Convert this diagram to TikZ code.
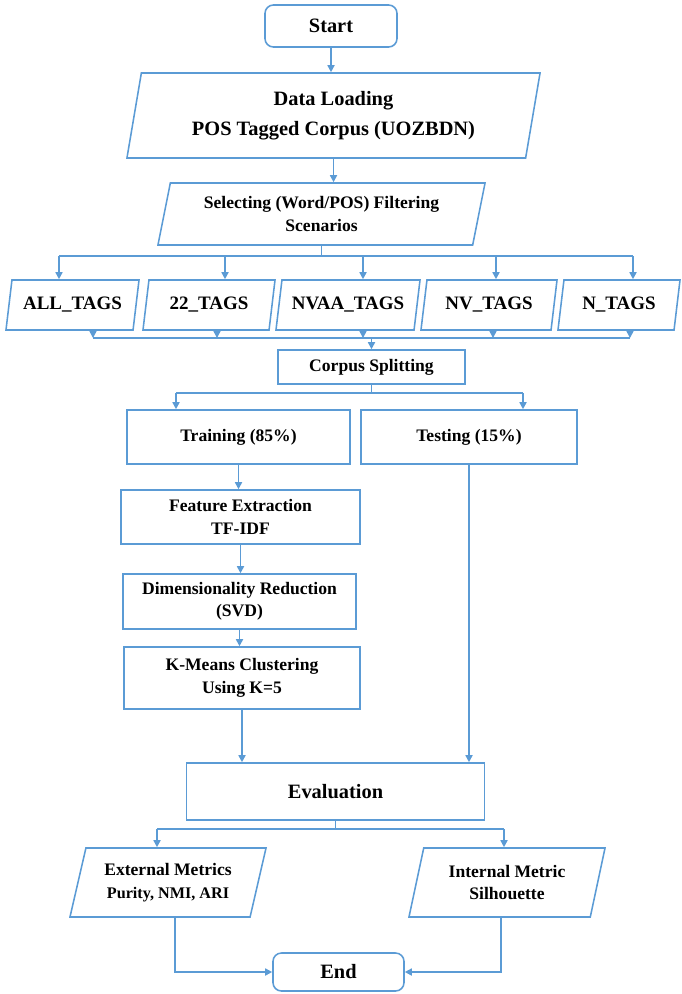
\documentclass[tikz,border=0pt]{standalone}
\usepackage{fontspec}
\setmainfont{Liberation Serif}
\usetikzlibrary{shapes.geometric,arrows.meta}
\definecolor{flow}{RGB}{91,155,213}

\begin{document}
\begin{tikzpicture}[x=0.025cm, y=-0.025cm,
    line/.style={draw=flow, line width=1.1pt},
    arr/.style={line, -{Triangle[width=5pt,length=5pt]}},
    big/.style={font=\fontsize{14.5}{21}\selectfont\bfseries},
    mid/.style={font=\fontsize{13.5}{17}\selectfont\bfseries},
    small/.style={font=\fontsize{12.5}{16}\selectfont\bfseries},
    box/.style={draw=flow, line width=1.1pt, rectangle, align=center, inner sep=2pt},
    term/.style={box, rounded corners=6pt},
    io/.style={box, trapezium, trapezium left angle=#1, trapezium right angle={180-#1},
        trapezium stretches body},
    io/.default=72]
    \useasboundingbox (0,0) rectangle (682,994);

    % Start and input
    \node[term, big, minimum width=3.3cm, minimum height=1.05cm] (start) at (331,26) {Start};
    \node[io=75, big, minimum width=10.325cm, minimum height=2.125cm] (load) at (333.5,115.5)
        {Data Loading\\POS Tagged Corpus (UOZBDN)};
    \node[io=73, small, minimum width=8.175cm, minimum height=1.55cm] (select) at (321.5,214)
        {Selecting (Word/POS) Filtering\\Scenarios};

    % Filtering scenarios
    \node[io=74, mid, minimum width=3.325cm, minimum height=1.25cm] (all) at (72.5,305) {ALL\_TAGS};
    \node[io=74, mid, minimum width=3.3cm, minimum height=1.25cm] (t22) at (209,305) {22\_TAGS};
    \node[io=74, mid, minimum width=3.6cm, minimum height=1.25cm] (nvaa) at (348,305) {NVAA\_TAGS};
    \node[io=74, mid, minimum width=3.4cm, minimum height=1.25cm] (nv) at (489,305) {NV\_TAGS};
    \node[io=74, mid, minimum width=3.05cm, minimum height=1.25cm] (ntag) at (619,305) {N\_TAGS};

    % Processing steps
    \node[box, small, minimum width=4.675cm, minimum height=0.85cm] (corpus) at (371.5,367) {Corpus Splitting};
    \node[box, small, minimum width=5.575cm, minimum height=1.35cm] (train) at (238.5,437) {Training (85\%)};
    \node[box, small, minimum width=5.4cm, minimum height=1.35cm] (test) at (469,437) {Testing (15\%)};
    \node[box, small, minimum width=5.975cm, minimum height=1.35cm] (feat) at (240.5,517)
        {Feature Extraction\\TF-IDF};
    \node[box, small, minimum width=5.825cm, minimum height=1.375cm] (dim) at (239.5,601.5)
        {Dimensionality Reduction\\(SVD)};
    \node[box, small, minimum width=5.9cm, minimum height=1.55cm] (kmeans) at (242,678)
        {K-Means Clustering\\Using K=5};
    \node[box, big, minimum width=7.45cm, minimum height=1.425cm] (eval) at (335.5,791.5) {Evaluation};

    % Outputs and end
    \node[io=70, small, minimum width=4.9cm, minimum height=1.725cm] (ext) at (168,882.5)
        {External Metrics\\{\fontsize{11.5}{15}\selectfont Purity, NMI, ARI}};
    \node[io=70, small, minimum width=4.9cm, minimum height=1.725cm] (int) at (507,882.5)
        {Internal Metric\\Silhouette};
    \node[term, big, minimum width=3.275cm, minimum height=0.95cm] (endnode) at (338.5,972) {End};

    % Bus coordinates
    \coordinate (b1) at (59,256);
    \coordinate (b5) at (633,256);
    \coordinate (m1) at (93,338);
    \coordinate (m5) at (630,338);
    \coordinate (s1) at (176,393);
    \coordinate (s2) at (523,393);
    \coordinate (e1) at (157,829);
    \coordinate (e2) at (504,829);
    \coordinate (c1) at (175,972);
    \coordinate (c2) at (501,972);

    % Top flow
    \draw[arr] (start.south) -- (start.south |- load.north);
    \draw[arr] (load.south) -- (load.south |- select.north);

    % Split into scenarios
    \draw[line] (select.south) -- (select.south |- b1);
    \draw[line] (b1) -- (b5);
    \foreach \px/\tag in {59/all, 225/t22, 363/nvaa, 496/nv, 633/ntag}
        \draw[arr] (\px,256) -- (\px,256 |- \tag.north);

    % Merge scenarios
    \foreach \px/\tag in {93/all, 217/t22, 363/nvaa, 493/nv, 630/ntag}
        \draw[arr] (\px,256 |- \tag.south) -- (\px,338);
    \draw[line] (m1) -- (m5);
    \draw[arr] (corpus.north |- m1) -- (corpus.north);

    % Train / test split
    \draw[line] (corpus.south) -- (corpus.south |- s1);
    \draw[line] (s1) -- (s2);
    \draw[arr] (s1) -- (s1 |- train.north);
    \draw[arr] (s2) -- (s2 |- test.north);

    % Training pipeline
    \draw[arr] (train.south) -- (train.south |- feat.north);
    \draw[arr] (feat.south) -- (feat.south |- dim.north);
    \draw[arr] (dim.south) -- (dim.south |- kmeans.north);
    \draw[arr] (kmeans.south) -- (kmeans.south |- eval.north);
    \draw[arr] (test.south) -- (test.south |- eval.north);

    % Metrics
    \draw[line] (eval.south) -- (eval.south |- e1);
    \draw[line] (e1) -- (e2);
    \draw[arr] (e1) -- (e1 |- ext.north);
    \draw[arr] (e2) -- (e2 |- int.north);
    \draw[arr] (c1 |- ext.south) |- (endnode.west);
    \draw[arr] (c2 |- int.south) |- (endnode.east);
\end{tikzpicture}
\end{document}
